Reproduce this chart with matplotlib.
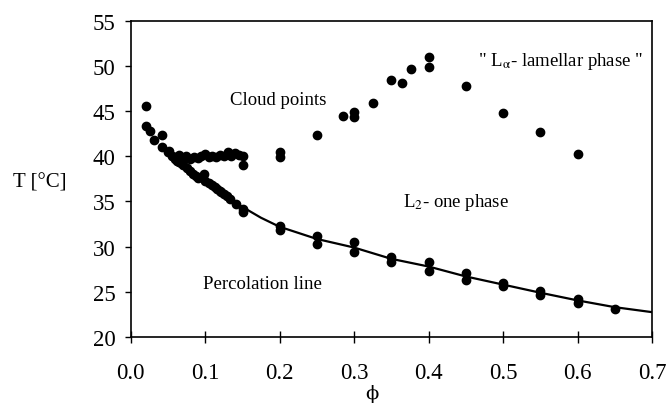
import numpy as np
import matplotlib
matplotlib.use('Agg')
import matplotlib.pyplot as plt

plt.rcParams['font.family'] = ['Liberation Serif', 'DejaVu Serif']
plt.rcParams['mathtext.fontset'] = 'stix'

# cloud points (upper branch)
cloud_phi = [0.021, 0.052, 0.055, 0.060, 0.065, 0.070, 0.075, 0.080, 0.085, 0.090,
             0.095, 0.100, 0.105, 0.110, 0.115, 0.120, 0.125, 0.131, 0.135, 0.140,
             0.145, 0.151, 0.151, 0.062, 0.068,
             0.200, 0.200, 0.250, 0.285, 0.300, 0.300, 0.325, 0.350, 0.365, 0.377,
             0.400, 0.400, 0.450, 0.500, 0.550, 0.600]
cloud_T = [45.6, 40.6, 40.0, 39.9, 40.1, 39.8, 40.0, 39.7, 39.9, 39.8,
           40.0, 40.2, 39.9, 40.0, 39.9, 40.1, 40.0, 40.5, 40.0, 40.4,
           40.1, 40.0, 39.0, 39.5, 39.3,
           40.5, 39.9, 42.4, 44.4, 44.9, 44.3, 45.9, 48.4, 48.1, 49.65,
           50.95, 49.85, 47.8, 44.8, 42.7, 40.25]

# percolation points (lower branch)
perc_phi = [0.021, 0.026, 0.032, 0.042, 0.042, 0.050, 0.060, 0.065, 0.071, 0.076,
            0.080, 0.084, 0.088, 0.091, 0.098, 0.100, 0.105, 0.109, 0.113, 0.116,
            0.120, 0.122, 0.126, 0.129, 0.134, 0.142, 0.151, 0.151,
            0.200, 0.200, 0.250, 0.250, 0.300, 0.300, 0.350, 0.350, 0.400, 0.400,
            0.450, 0.450, 0.500, 0.500, 0.550, 0.550, 0.600, 0.600, 0.650]
perc_T = [43.3, 42.8, 41.8, 42.3, 41.0, 40.5, 39.7, 39.4, 39.0, 38.7,
          38.4, 38.0, 37.8, 37.6, 38.0, 37.3, 37.0, 36.8, 36.6, 36.4,
          36.2, 36.0, 35.8, 35.6, 35.3, 34.7, 34.2, 33.8,
          32.3, 31.8, 31.15, 30.3, 30.55, 29.45, 28.9, 28.3, 28.3, 27.35,
          27.05, 26.3, 26.0, 25.6, 25.1, 24.6, 24.2, 23.75, 23.1]

# percolation line
line_phi = [0.100, 0.125, 0.150, 0.175, 0.200, 0.250, 0.300, 0.350, 0.400,
            0.450, 0.500, 0.550, 0.600, 0.650, 0.700]
line_T = [37.2, 35.7, 34.4, 33.2, 32.2, 30.85, 29.9, 28.65, 27.8,
          26.7, 25.8, 24.9, 24.05, 23.3, 22.75]

x_ticks = [0.0, 0.1, 0.2, 0.3, 0.4, 0.5, 0.6, 0.7]
y_ticks = [20, 25, 30, 35, 40, 45, 50, 55]

fig = plt.figure(figsize=(6.67, 4.10), dpi=100)
ax = fig.add_axes([0.1957, 0.1756, 0.7819, 0.7715])

ax.plot(line_phi, line_T, color='black', lw=1.6, zorder=2)
ax.plot(cloud_phi, cloud_T, 'o', color='black', ms=6, zorder=3)
ax.plot(perc_phi, perc_T, 'o', color='black', ms=6, zorder=3)

ax.set_xlim(0, 0.7)
ax.set_ylim(20, 55)
ax.set_xticks(x_ticks)
ax.set_xticklabels([f'{v:.1f}' for v in x_ticks])
ax.set_yticks(y_ticks)
ax.tick_params(axis='x', direction='inout', length=8, width=1, pad=14, labelsize=16.5)
ax.tick_params(axis='y', direction='out', length=4, width=1, pad=7, labelsize=16.5)
for s in ax.spines.values():
    s.set_linewidth(1.2)

ax.text(0.134, 46.3, 'Cloud points', fontsize=13.5, ha='left', va='center')
ax.text(0.466, 50.6, '" L$_{\\mathrm{\\alpha}}$- lamellar phase "', fontsize=13.5, ha='left', va='center')
ax.text(0.366, 34.95, 'L$_{2}$- one phase', fontsize=13.5, ha='left', va='center')
ax.text(0.0976, 25.9, 'Percolation line', fontsize=13.5, ha='left', va='center')

fig.text(40 / 667, 1 - 183 / 410, 'T [°C]', fontsize=15, ha='center', va='center')
fig.text(372 / 667, 1 - 394 / 410, '\u03d5', fontsize=14, ha='center', va='center',
         family=['DejaVu Serif'])

fig.savefig('out.png', dpi=100)
